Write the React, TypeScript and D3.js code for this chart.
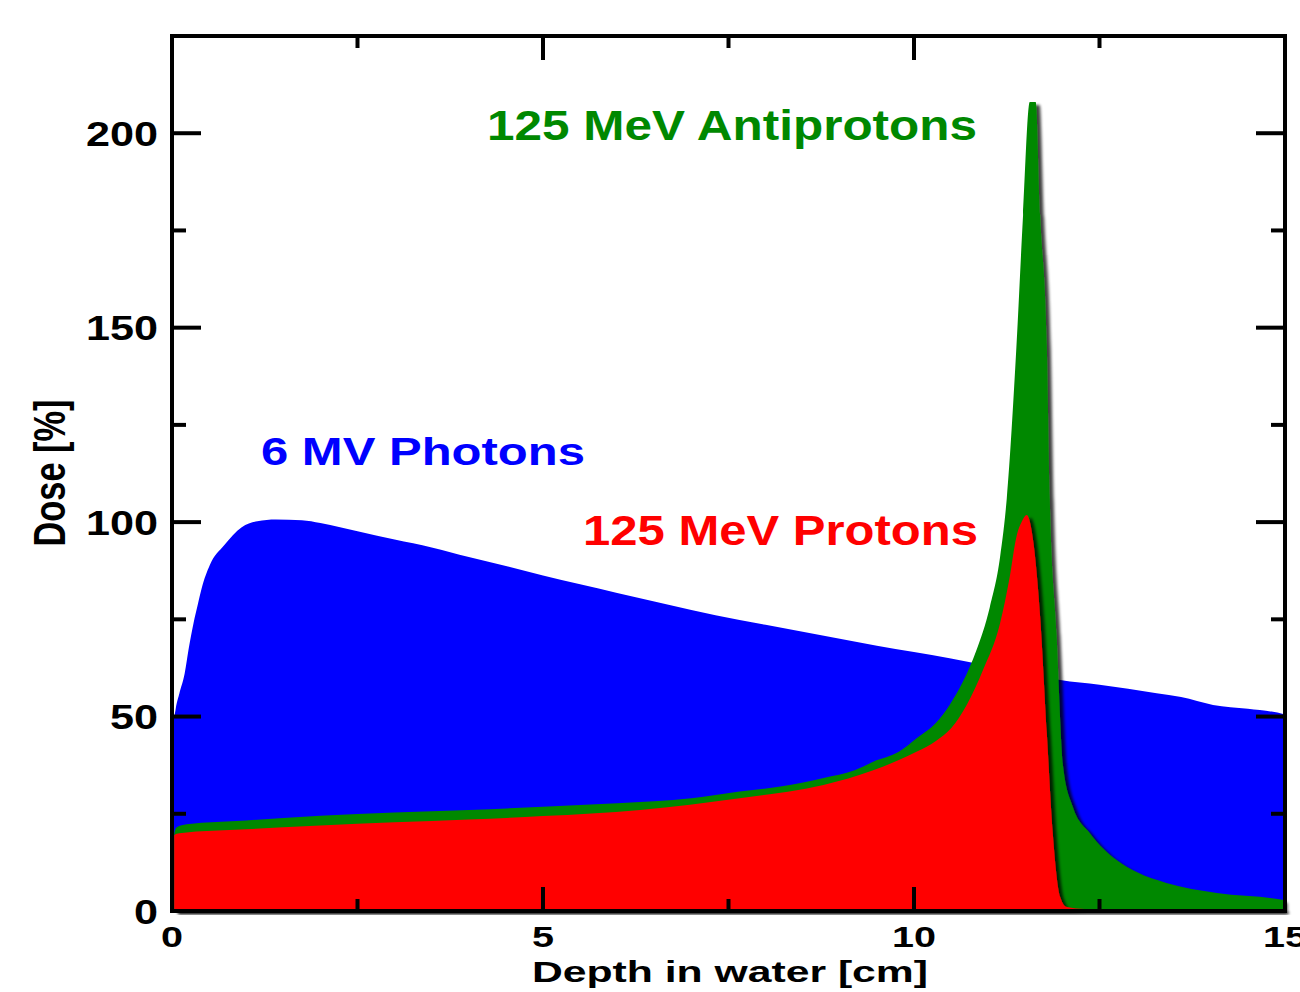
import React from "react";
import * as d3 from "d3";

// Depth [cm] and dose [%]
const photonDepth = [0.0, 0.05, 0.1, 0.17, 0.23, 0.29, 0.35, 0.4, 0.51, 0.7, 0.94, 1.15, 1.4, 1.75, 2.0, 2.53, 3.0, 3.5, 4.0, 4.5, 5.0, 5.5, 6.0, 6.5, 7.0, 7.65, 8.0, 8.5, 9.0, 9.5, 10.0, 10.48, 11.0, 11.5, 11.97, 12.5, 13.27, 13.6, 14.03, 14.5, 15.0];
const photonDose = [44, 52, 56, 61, 68, 74, 79, 83, 89, 94, 98.7, 100.2, 100.7, 100.5, 99.8, 97.5, 95.5, 93.5, 91, 88.7, 86.3, 84, 81.8, 79.6, 77.4, 74.8, 73.6, 71.8, 70, 68.2, 66.6, 65, 63, 61.2, 59.4, 58.2, 56, 55, 53, 52, 50.5];

const antiDepth = [0.03, 0.06, 0.2, 1, 2, 3, 4, 5, 6, 7, 7.65, 8.2, 8.78, 9.2, 9.45, 9.8, 10.04, 10.3, 10.48, 10.66, 10.84, 11.02, 11.16, 11.25, 11.38, 11.47, 11.56, 11.64, 11.7, 11.79, 11.83, 11.92, 12.01, 12.14, 12.37, 12.73, 13.0, 13.4, 14.08, 14.98];
const antiDose = [20, 21.5, 22.3, 23.3, 24.5, 25.3, 26, 26.8, 27.7, 29, 30.7, 32, 34.2, 36.2, 38.4, 41, 44.5, 48.5, 53, 59, 67, 78, 91, 106, 145, 179, 208, 208, 179, 145, 105.6, 71.4, 37, 26.8, 20, 13.1, 10, 7.2, 4.6, 2.8];

const protonDepth = [0.03, 0.1, 1, 2, 3, 4, 5, 6.31, 7.65, 8.78, 9.45, 10.04, 10.3, 10.5, 10.71, 10.93, 11.16, 11.29, 11.38, 11.45, 11.52, 11.61, 11.7, 11.79, 11.87, 11.97, 12.06, 12.3, 15.0];
const protonDose = [19.5, 20, 21, 22, 22.8, 23.5, 24.4, 26, 29, 32.4, 36.2, 41, 43.8, 47, 53, 62, 74, 85.9, 96.2, 100, 101.8, 94.6, 75.6, 45.7, 20, 3.6, 1, 0.5, 0.5];

const xMajorTicks = [0, 5, 10, 15];
const xMinorTicks = [2.5, 7.5, 12.5];
const yMajorTicks = [0, 50, 100, 150, 200];
const yMinorTicks = [25, 75, 125, 175];

const labels = [
  { text: "125 MeV Antiprotons", color: "#008800", x: 487, y: 140, size: 42, len: 490 },
  { text: "6 MV Photons", color: "#0000ff", x: 261, y: 465, size: 39, len: 324 },
  { text: "125 MeV Protons", color: "#ff0000", x: 583, y: 545, size: 42, len: 395 },
];

const L = 172, R = 1285, T = 36, B = 911;
const FONT = "'Liberation Sans', Arial, Helvetica, sans-serif";

export default function App() {
  const x = d3.scaleLinear().domain([0, 15]).range([L, R]);
  const y = d3.scaleLinear().domain([0, 225]).range([B, T]);

  const area = (xs: number[], ys: number[]) => {
    const pts = xs.map((d, i) => [d, ys[i]] as [number, number]);
    const start: [number, number] = [xs[0], 0];
    const end: [number, number] = [xs[xs.length - 1], 0];
    return d3
      .area<[number, number]>()
      .x((d) => x(d[0]))
      .y0(y(0))
      .y1((d) => y(d[1]))
      .curve(d3.curveMonotoneX)([start, ...pts, end]) as string;
  };

  const blue = area(photonDepth, photonDose);
  const green = area(antiDepth, antiDose);
  const red = area(protonDepth, protonDose);

  return (
    <svg
      width={1300}
      height={992}
      style={{ position: "absolute", left: 0, top: 0, background: "#fff" }}
    >
      <defs>
        <filter id="shadow" x="-10%" y="-10%" width="130%" height="130%">
          <feGaussianBlur in="SourceAlpha" stdDeviation="1.8" />
          <feOffset dx="4" dy="3" result="off" />
          <feComponentTransfer>
            <feFuncA type="linear" slope="0.75" />
          </feComponentTransfer>
          <feMerge>
            <feMergeNode />
            <feMergeNode in="SourceGraphic" />
          </feMerge>
        </filter>
        <clipPath id="plotclip">
          <rect x={L} y={T - 10} width={R - L + 10} height={B - T + 14} />
        </clipPath>
      </defs>

      <g clipPath="url(#plotclip)">
        <path d={blue} fill="#0000ff" />
        <path d={green} fill="#008800" filter="url(#shadow)" />
        <path d={red} fill="#ff0000" filter="url(#shadow)" />
      </g>

      {/* frame */}
      <rect x={L} y={T} width={R - L} height={B - T} fill="none" stroke="#000" strokeWidth={4} />

      {/* x ticks */}
      {xMajorTicks.map((t) => (
        <g key={"xm" + t}>
          <line x1={x(t)} x2={x(t)} y1={B} y2={B - 24} stroke="#000" strokeWidth={4} />
          <line x1={x(t)} x2={x(t)} y1={T} y2={T + 24} stroke="#000" strokeWidth={4} />
        </g>
      ))}
      {xMinorTicks.map((t) => (
        <g key={"xn" + t}>
          <line x1={x(t)} x2={x(t)} y1={B} y2={B - 12} stroke="#000" strokeWidth={4} />
          <line x1={x(t)} x2={x(t)} y1={T} y2={T + 12} stroke="#000" strokeWidth={4} />
        </g>
      ))}
      {/* y ticks */}
      {yMajorTicks.map((t) => (
        <g key={"ym" + t}>
          <line x1={L} x2={L + 29} y1={y(t)} y2={y(t)} stroke="#000" strokeWidth={4} />
          <line x1={R} x2={R - 29} y1={y(t)} y2={y(t)} stroke="#000" strokeWidth={4} />
        </g>
      ))}
      {yMinorTicks.map((t) => (
        <g key={"yn" + t}>
          <line x1={L} x2={L + 14} y1={y(t)} y2={y(t)} stroke="#000" strokeWidth={4} />
          <line x1={R} x2={R - 14} y1={y(t)} y2={y(t)} stroke="#000" strokeWidth={4} />
        </g>
      ))}

      {/* tick labels */}
      {yMajorTicks.map((t) => {
        const s = String(t);
        return (
          <text
            key={"yl" + t}
            x={158}
            y={y(t) + 12.5}
            textAnchor="end"
            fontFamily={FONT}
            fontWeight="bold"
            fontSize={35}
            textLength={24 * s.length}
            lengthAdjust="spacingAndGlyphs"
            fill="#000"
          >
            {s}
          </text>
        );
      })}
      {xMajorTicks.map((t) => {
        const s = String(t);
        return (
          <text
            key={"xl" + t}
            x={x(t)}
            y={947}
            textAnchor="middle"
            fontFamily={FONT}
            fontWeight="bold"
            fontSize={30}
            textLength={22 * s.length}
            lengthAdjust="spacingAndGlyphs"
            fill="#000"
          >
            {s}
          </text>
        );
      })}

      {/* axis titles */}
      <text
        x={730}
        y={982}
        textAnchor="middle"
        fontFamily={FONT}
        fontWeight="bold"
        fontSize={29}
        textLength={396}
        lengthAdjust="spacingAndGlyphs"
        fill="#000"
      >
        Depth in water [cm]
      </text>
      <text
        transform="translate(65,473) scale(1.3,1) rotate(-90)"
        textAnchor="middle"
        fontFamily={FONT}
        fontWeight="bold"
        fontSize={34}
        textLength={147}
        lengthAdjust="spacingAndGlyphs"
        fill="#000"
      >
        Dose [%]
      </text>

      {/* series labels */}
      {labels.map((l) => (
        <text
          key={l.text}
          x={l.x}
          y={l.y}
          fontFamily={FONT}
          fontWeight="bold"
          fontSize={l.size}
          textLength={l.len}
          lengthAdjust="spacingAndGlyphs"
          fill={l.color}
        >
          {l.text}
        </text>
      ))}
    </svg>
  );
}
